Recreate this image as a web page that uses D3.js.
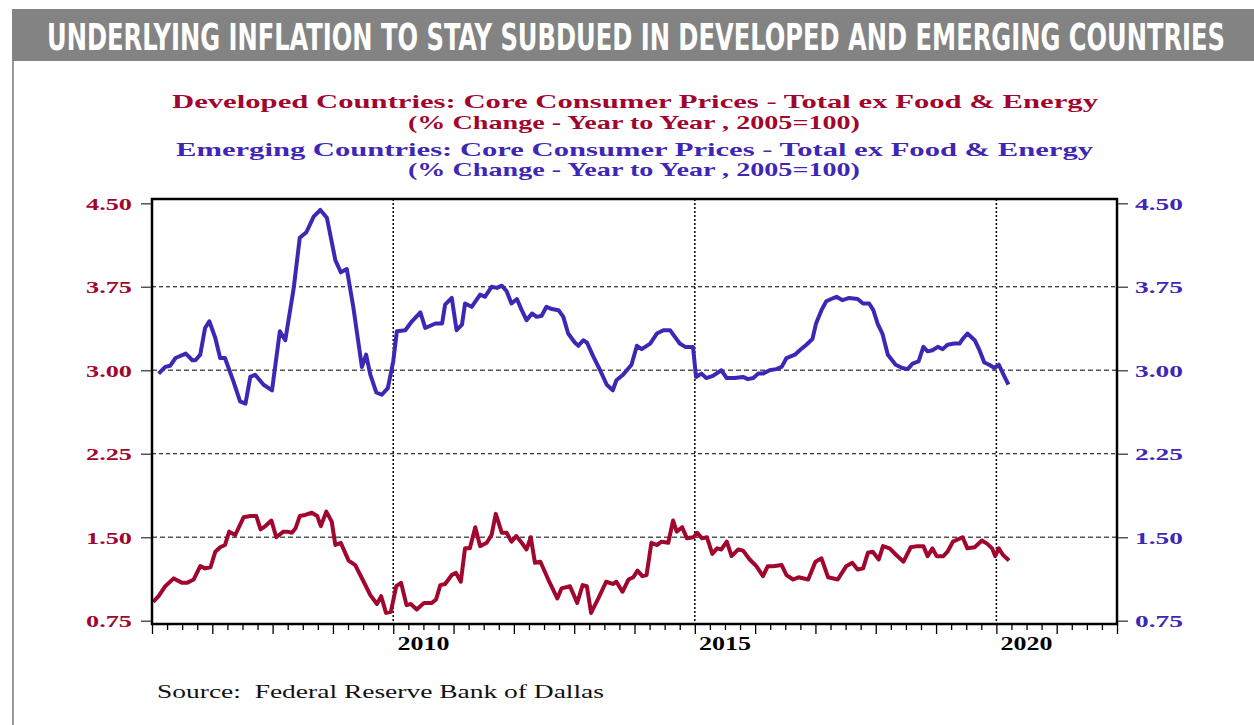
<!DOCTYPE html>
<html><head><meta charset="utf-8">
<script src="https://cdn.jsdelivr.net/npm/d3@7/dist/d3.min.js"></script>
<style>body{margin:0;background:#fff}svg{display:block}</style>
</head><body>
<script>
// ---- DATA ----
const emergingDates = [2006.11,2006.22,2006.3,2006.39,2006.56,2006.67,2006.72,2006.8,2006.88,2006.95,2007.05,2007.13,2007.21,2007.35,2007.46,2007.55,2007.63,2007.71,2007.85,2007.99,2008.12,2008.21,2008.35,2008.45,2008.56,2008.68,2008.79,2008.9,2009.04,2009.13,2009.23,2009.34,2009.48,2009.55,2009.62,2009.72,2009.81,2009.91,2010.0,2010.06,2010.2,2010.31,2010.45,2010.53,2010.7,2010.81,2010.86,2010.97,2011.05,2011.14,2011.19,2011.3,2011.44,2011.52,2011.63,2011.72,2011.8,2011.88,2011.96,2012.05,2012.13,2012.21,2012.3,2012.38,2012.46,2012.54,2012.63,2012.74,2012.82,2012.9,2013.01,2013.07,2013.15,2013.21,2013.32,2013.43,2013.54,2013.64,2013.7,2013.81,2013.95,2014.04,2014.12,2014.26,2014.37,2014.48,2014.59,2014.67,2014.75,2014.84,2014.97,2015.02,2015.11,2015.19,2015.3,2015.44,2015.53,2015.66,2015.8,2015.88,2015.97,2016.05,2016.13,2016.24,2016.35,2016.44,2016.52,2016.66,2016.74,2016.85,2016.95,2017.01,2017.1,2017.18,2017.26,2017.35,2017.45,2017.56,2017.7,2017.79,2017.89,2017.96,2018.03,2018.11,2018.2,2018.33,2018.44,2018.53,2018.61,2018.71,2018.79,2018.86,2018.94,2019.03,2019.11,2019.19,2019.3,2019.39,2019.44,2019.52,2019.64,2019.72,2019.8,2019.88,2019.97,2020.04,2020.11,2020.2];
const emergingValues = [2.97,3.03,3.04,3.11,3.15,3.09,3.09,3.14,3.38,3.44,3.29,3.11,3.11,2.9,2.72,2.7,2.94,2.96,2.87,2.82,3.35,3.27,3.74,4.19,4.24,4.38,4.44,4.37,3.99,3.88,3.91,3.56,3.03,3.14,2.96,2.8,2.78,2.84,3.08,3.35,3.36,3.44,3.52,3.38,3.42,3.42,3.59,3.65,3.36,3.41,3.6,3.57,3.68,3.66,3.75,3.74,3.76,3.71,3.6,3.64,3.54,3.45,3.51,3.48,3.49,3.57,3.55,3.54,3.48,3.33,3.25,3.22,3.27,3.25,3.12,3.0,2.87,2.82,2.91,2.96,3.05,3.22,3.19,3.24,3.33,3.36,3.36,3.3,3.24,3.21,3.21,2.94,2.97,2.93,2.95,3.0,2.93,2.93,2.94,2.92,2.93,2.97,2.97,3.0,3.01,3.03,3.11,3.14,3.18,3.23,3.28,3.42,3.54,3.62,3.64,3.66,3.63,3.65,3.64,3.6,3.6,3.54,3.42,3.33,3.14,3.05,3.02,3.01,3.06,3.08,3.21,3.17,3.18,3.21,3.19,3.23,3.24,3.24,3.28,3.33,3.27,3.18,3.07,3.05,3.02,3.05,2.97,2.87];

const developedDates = [2006.02,2006.11,2006.22,2006.36,2006.5,2006.58,2006.69,2006.8,2006.88,2006.97,2007.05,2007.13,2007.21,2007.28,2007.38,2007.52,2007.63,2007.73,2007.8,2007.88,2007.98,2008.06,2008.18,2008.24,2008.32,2008.38,2008.45,2008.54,2008.65,2008.74,2008.8,2008.89,2008.98,2009.04,2009.13,2009.26,2009.37,2009.51,2009.62,2009.73,2009.8,2009.88,2009.96,2010.05,2010.13,2010.22,2010.29,2010.39,2010.51,2010.64,2010.71,2010.78,2010.86,2010.97,2011.04,2011.12,2011.19,2011.27,2011.36,2011.44,2011.55,2011.63,2011.7,2011.8,2011.88,2011.96,2012.04,2012.13,2012.21,2012.28,2012.35,2012.44,2012.57,2012.72,2012.79,2012.93,2013.05,2013.14,2013.21,2013.28,2013.4,2013.53,2013.64,2013.7,2013.8,2013.9,2013.98,2014.05,2014.13,2014.2,2014.28,2014.37,2014.45,2014.56,2014.64,2014.7,2014.79,2014.87,2014.98,2015.04,2015.12,2015.2,2015.29,2015.37,2015.44,2015.53,2015.61,2015.72,2015.8,2015.91,2016.02,2016.13,2016.21,2016.3,2016.44,2016.52,2016.63,2016.72,2016.88,2017.0,2017.1,2017.21,2017.37,2017.51,2017.61,2017.7,2017.79,2017.87,2017.95,2018.05,2018.12,2018.23,2018.34,2018.46,2018.58,2018.69,2018.79,2018.86,2018.94,2019.01,2019.12,2019.19,2019.28,2019.44,2019.52,2019.64,2019.76,2019.85,2019.93,2019.98,2020.04,2020.11,2020.21];
const developedValues = [0.92,0.97,1.06,1.13,1.09,1.09,1.12,1.24,1.22,1.23,1.37,1.41,1.43,1.55,1.52,1.68,1.69,1.69,1.57,1.6,1.65,1.5,1.55,1.55,1.54,1.58,1.69,1.7,1.72,1.69,1.6,1.73,1.64,1.43,1.45,1.29,1.25,1.1,0.98,0.9,0.97,0.82,0.83,1.06,1.09,0.89,0.9,0.85,0.91,0.91,0.94,1.07,1.08,1.16,1.18,1.1,1.4,1.4,1.59,1.42,1.45,1.52,1.71,1.54,1.54,1.46,1.51,1.45,1.39,1.5,1.27,1.28,1.12,0.95,1.04,1.06,0.91,1.07,1.06,0.82,0.95,1.1,1.08,1.1,1.01,1.12,1.14,1.2,1.15,1.16,1.45,1.43,1.46,1.45,1.65,1.55,1.59,1.49,1.5,1.54,1.49,1.5,1.35,1.4,1.39,1.46,1.33,1.39,1.38,1.3,1.24,1.15,1.24,1.24,1.25,1.16,1.12,1.14,1.12,1.28,1.31,1.14,1.12,1.24,1.27,1.21,1.22,1.36,1.37,1.3,1.42,1.4,1.34,1.28,1.41,1.42,1.42,1.33,1.4,1.33,1.33,1.37,1.46,1.5,1.4,1.41,1.47,1.44,1.4,1.33,1.4,1.34,1.29];

const yTicks = [0.75, 1.50, 2.25, 3.00, 3.75, 4.50];
const yearLabels = [2010, 2015, 2020];
const titleText = "UNDERLYING INFLATION TO STAY SUBDUED IN DEVELOPED AND EMERGING COUNTRIES";
const chartTitles = [
  "Developed Countries: Core Consumer Prices - Total ex Food & Energy",
  "(% Change - Year to Year , 2005=100)",
  "Emerging Countries: Core Consumer Prices - Total ex Food & Energy",
  "(% Change - Year to Year , 2005=100)"
];
const sourceText = "Source:  Federal Reserve Bank of Dallas";

// ---- LAYOUT ----
const W = 1254, H = 725;
const RED = "#a0062e", BLUE = "#3f27b6";
const svg = d3.select("body").append("svg").attr("width", W).attr("height", H);

// title bar
svg.append("rect").attr("x", 12).attr("y", 9).attr("width", W - 12).attr("height", 52).attr("fill", "#838383");
svg.append("line").attr("x1", 13).attr("x2", 13).attr("y1", 61).attr("y2", H).attr("stroke", "#9a9a9a").attr("stroke-width", 2);
svg.append("text").attr("transform", "translate(47,50) scale(1,1.42)").attr("fill", "#fff")
  .attr("font-family", "'DejaVu Sans Condensed','DejaVu Sans',sans-serif").attr("font-weight", "bold")
  .attr("font-size", 26).attr("textLength", 1178).attr("lengthAdjust", "spacingAndGlyphs").text(titleText);

// chart titles
const tl = [
  {y: 108, x0: 172, w: 926, c: RED},
  {y: 129, x0: 408, w: 452, c: RED},
  {y: 156, x0: 176, w: 917, c: BLUE},
  {y: 176, x0: 408, w: 452, c: BLUE}
];
chartTitles.forEach((t, i) => {
  svg.append("text").attr("x", tl[i].x0).attr("y", tl[i].y).attr("fill", tl[i].c)
    .attr("font-family", "'Liberation Serif','Times New Roman',serif").attr("font-weight", "bold")
    .attr("font-size", 19).attr("textLength", tl[i].w).attr("lengthAdjust", "spacingAndGlyphs").text(t);
});

const x = d3.scaleLinear().domain([2006, 2022]).range([152, 1117]);
const y = d3.scaleLinear().domain([0.75, 4.5]).range([620.7, 203.3]);
const pTop = 199, pBottom = 624, pLeft = x(2006), pRight = x(2022);

// grid
const g = svg.append("g");
[3.75, 2.25].forEach(v => g.append("line").attr("x1", pLeft).attr("x2", pRight).attr("y1", y(v)).attr("y2", y(v))
  .attr("stroke", "#000").attr("stroke-width", 1).attr("stroke-dasharray", "4,3"));
[3.00, 1.50].forEach(v => g.append("line").attr("x1", pLeft).attr("x2", pRight).attr("y1", y(v)).attr("y2", y(v))
  .attr("stroke", "#555").attr("stroke-width", 1.6).attr("stroke-dasharray", "5,3"));
[2010, 2015, 2020].forEach(v => g.append("line").attr("x1", x(v)).attr("x2", x(v)).attr("y1", pTop).attr("y2", pBottom)
  .attr("stroke", "#000").attr("stroke-width", 1.5).attr("stroke-dasharray", "2,2"));

// lines
const line = d3.line().x(d => x(d[0])).y(d => y(d[1]));
svg.append("path").datum(emergingDates.map((d, i) => [d, emergingValues[i]]))
  .attr("d", line).attr("fill", "none").attr("stroke", BLUE).attr("stroke-width", 4).attr("stroke-linejoin", "round");
svg.append("path").datum(developedDates.map((d, i) => [d, developedValues[i]]))
  .attr("d", line).attr("fill", "none").attr("stroke", RED).attr("stroke-width", 4).attr("stroke-linejoin", "round");

// frame
svg.append("rect").attr("x", pLeft).attr("y", pTop).attr("width", pRight - pLeft).attr("height", pBottom - pTop)
  .attr("fill", "none").attr("stroke", "#000").attr("stroke-width", 2.5);

// y axes
const axL = d3.axisLeft(y).tickValues(yTicks).tickSize(10).tickFormat(d3.format(".2f"));
const gl = svg.append("g").attr("transform", `translate(${pLeft - 1},0)`).call(axL);
gl.select(".domain").remove();
gl.selectAll(".tick line").attr("stroke", "#555").attr("stroke-width", 1.5);
gl.selectAll(".tick text").attr("fill", RED).attr("font-family", "'Liberation Serif',serif").attr("font-weight", "bold")
  .attr("font-size", 17).attr("textLength", 46).attr("lengthAdjust", "spacingAndGlyphs").attr("x", -19).attr("dy", "0.35em");

const axR = d3.axisRight(y).tickValues(yTicks).tickSize(10).tickFormat(d3.format(".2f"));
const gr = svg.append("g").attr("transform", `translate(${pRight + 1},0)`).call(axR);
gr.select(".domain").remove();
gr.selectAll(".tick line").attr("stroke", "#555").attr("stroke-width", 1.5);
gr.selectAll(".tick text").attr("fill", BLUE).attr("font-family", "'Liberation Serif',serif").attr("font-weight", "bold")
  .attr("font-size", 17).attr("textLength", 48).attr("lengthAdjust", "spacingAndGlyphs").attr("x", 17).attr("dy", "0.35em");

// x axis ticks
const quarters = d3.range(2006, 2022.001, 0.25);
const axB = d3.axisBottom(x).tickValues(quarters).tickSize(5).tickFormat("");
const gb = svg.append("g").attr("transform", `translate(0,${pBottom + 1})`).call(axB);
gb.select(".domain").remove();
gb.selectAll(".tick line").attr("stroke", "#000").attr("stroke-width", 1.3)
  .attr("y2", d => Math.abs(d - Math.round(d)) < 1e-6 ? 9 : 5);
svg.append("g").selectAll("text").data(yearLabels).join("text")
  .attr("x", d => x(d + 0.5)).attr("y", 650).attr("text-anchor", "middle")
  .attr("font-family", "'Liberation Serif',serif").attr("font-weight", "bold").attr("font-size", 18)
  .attr("textLength", 52).attr("lengthAdjust", "spacingAndGlyphs").text(d => d);

// source
svg.append("text").attr("x", 157).attr("y", 698).attr("font-family", "'Liberation Serif',serif")
  .style("white-space", "pre").attr("xml:space", "preserve")
  .attr("font-size", 18).attr("fill", "#111").attr("textLength", 447).attr("lengthAdjust", "spacingAndGlyphs").text(sourceText);
</script>
</body></html>
